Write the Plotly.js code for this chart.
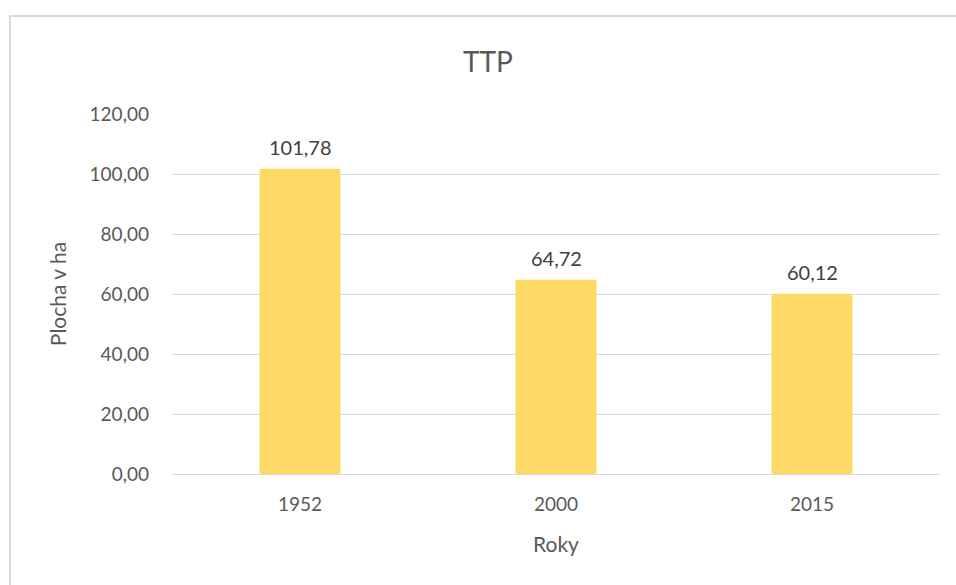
<!DOCTYPE html>
<html>
<head>
<meta charset="utf-8">
<script src="https://cdn.plot.ly/plotly-3.0.1.min.js"></script>
<style>
html,body{margin:0;padding:0;background:#fff;overflow:hidden;width:956px;height:585px;}
#frame{position:absolute;left:9px;top:15px;width:1200px;height:1200px;border:2px solid #d9d9d9;box-sizing:border-box;pointer-events:none;z-index:10;}
#chart{position:absolute;left:0;top:0;width:956px;height:585px;}
</style>
</head>
<body>
<div id="chart"></div>
<div id="frame"></div>
<script>
const categories = ['1952', '2000', '2015'];
const values = [101.78, 64.72, 60.12];
const tickValues = [0, 20, 40, 60, 80, 100, 120];

const fmt = v => v.toFixed(2).replace('.', ',');
const font = 'Lato, "Open Sans", sans-serif';
const grey = '#595959';

const trace = {
  type: 'bar',
  x: categories,
  y: values,
  marker: {color: '#FFD966'},
  hoverinfo: 'none'
};

const annotations = categories.map((c, i) => ({
  x: i, y: values[i], xref: 'x', yref: 'y',
  text: fmt(values[i]), showarrow: false,
  yanchor: 'bottom', yshift: 8,
  font: {family: font, size: 20, color: '#404040'}
}));

const layout = {
  width: 956, height: 585,
  margin: {l: 172, r: 16, t: 114, b: 111},
  paper_bgcolor: '#fff', plot_bgcolor: '#fff',
  bargap: 0.684,
  showlegend: false,
  title: {text: 'TTP', font: {family: font, size: 28, color: grey}, x: 488/956, xanchor: 'center', xref: 'container', y: 1 - 62/585, yanchor: 'middle', yref: 'container'},
  xaxis: {
    type: 'category',
    range: [-0.5, 2.5],
    tickfont: {family: font, size: 19, color: grey},
    title: {text: 'Roky', font: {family: font, size: 21, color: grey}, standoff: 23},
    showline: false, ticks: '', showgrid: false, zeroline: false,
    ticklabelstandoff: 17
  },
  yaxis: {
    range: [0, 120],
    tickvals: tickValues,
    ticktext: tickValues.map(fmt),
    tickfont: {family: font, size: 19, color: grey},
    title: {text: 'Plocha v ha', font: {family: font, size: 21, color: grey}, standoff: 17},
    gridcolor: '#d9d9d9', gridwidth: 1,
    zeroline: true, zerolinecolor: '#d9d9d9', zerolinewidth: 1,
    showline: false, ticks: '', ticklabelstandoff: 22
  },
  annotations: annotations
};

Plotly.newPlot('chart', [trace], layout, {displayModeBar: false, staticPlot: true});
</script>
</body>
</html>
